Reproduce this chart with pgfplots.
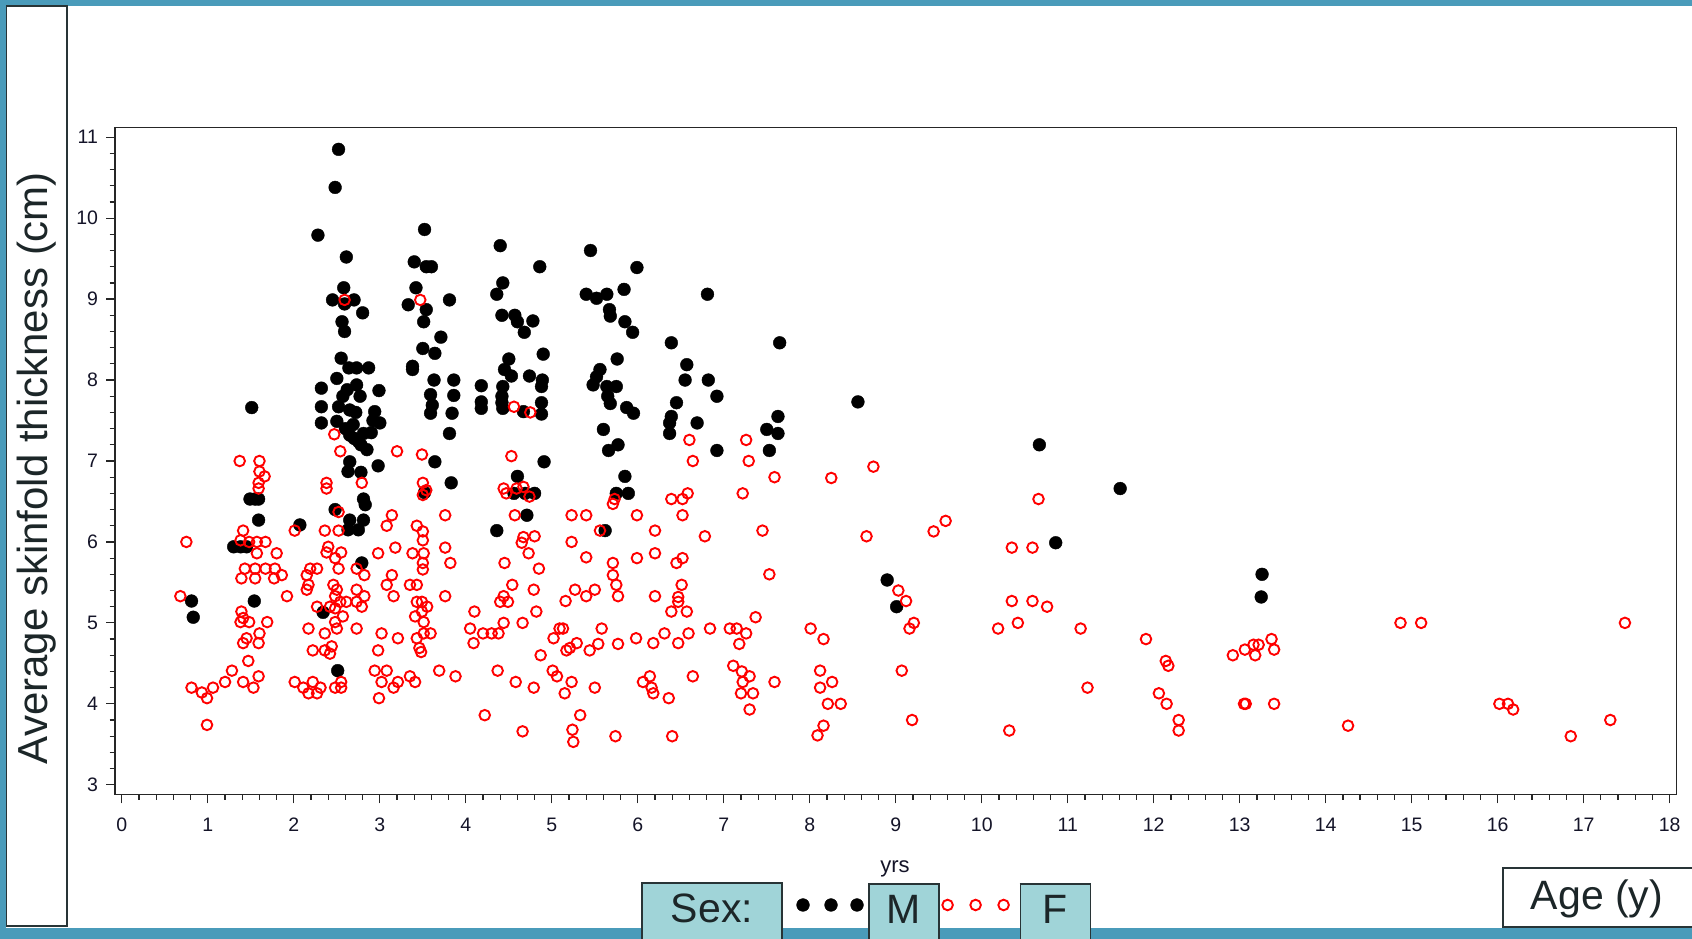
\documentclass[border=0pt]{standalone}
\usepackage{fontspec}
\setmainfont{Liberation Sans}
\usepackage{pgfplots}
\pgfplotsset{compat=1.18}

\definecolor{frameblue}{RGB}{74,155,186}
\definecolor{boxfill}{RGB}{160,212,216}
\definecolor{boxline}{RGB}{40,52,54}
\definecolor{boxtext}{RGB}{28,38,40}
\definecolor{ticktext}{RGB}{20,20,40}

% framed label box used for the legend captions
\newcommand\lbox[2]{{\setlength\fboxsep{0pt}\setlength\fboxrule{1.6pt}%
  \fcolorbox{boxline}{boxfill}{\makebox[#1]{\rule[-40pt]{0pt}{79.4pt}%
  \fontsize{41}{41}\selectfont\color{boxtext}#2}}}}

\begin{document}
\begin{tikzpicture}
% slide frame
\fill[white] (0,0) rectangle (1692pt,939pt);
\fill[frameblue] (0pt,933pt) rectangle (1692pt,939pt);
\fill[frameblue] (0pt,0pt) rectangle (5.5pt,939pt);
\fill[frameblue] (0pt,0pt) rectangle (1692pt,11pt);
\draw[boxline, line width=1.8pt, fill=white] (6.5pt,13pt) rectangle (67pt,933pt);
\draw[boxline, line width=1.8pt, fill=white] (1503pt,12pt) rectangle (1700pt,71pt);
\node[anchor=base, inner sep=0pt, text=boxtext, font=\fontsize{41}{41}\selectfont] at (1597pt,29pt) {Age (y)};
\node[anchor=base west, inner sep=0pt] at (641pt,16pt) {\lbox{138.4pt}{Sex:}};

\begin{axis}[
  at={(115pt,144.5pt)}, anchor=south west,
  scale only axis, width=1561.5pt, height=667pt,
  xmin=-0.08, xmax=18.08, ymin=2.88, ymax=11.12,
  xtick={0,1,...,18}, ytick={3,4,...,11},
  minor x tick num=4, minor y tick num=4,
  tick pos=left, tick align=outside,
  major tick length=9pt, minor tick length=5.5pt,
  tick style={line width=1.2pt, color=black!85},
  axis line style={line width=1.5pt, color=black!85},
  /pgf/number format/assume math mode=true,
  tick label style={font=\fontsize{19.5}{19.5}\selectfont, text=ticktext},
  xticklabel style={yshift=-11pt},
  yticklabel style={xshift=-4.5pt},
  ylabel={Average skinfold thickness (cm)},
  ylabel style={at={(axis description cs:-0.0503,0.4895)}, anchor=center,
    font=\fontsize{42}{42}\selectfont, text=boxtext},
  xlabel={yrs},
  xlabel style={at={(axis description cs:0.4995,-0.1162)}, anchor=base,
    font=\fontsize{22}{22}\selectfont, text=ticktext},
  legend columns=-1,
  legend style={draw=none, fill=none, inner sep=0pt, outer sep=0pt,
    column sep=0pt, row sep=0pt, nodes={inner sep=0pt, anchor=base west},
    cells={anchor=base west},
    at={(axis description cs:0.42715,-0.13268)}, anchor=north west},
]

% boys
\addplot[only marks, mark=*, mark size=6.4pt, black,
  legend image code/.code={
    \path[draw=none, fill=none] (0pt,0pt) (86pt,0pt);
    \draw[only marks] plot coordinates {(21pt,19pt) (49pt,19pt) (75pt,19pt)};}]
table {
x y
2.52 10.85
2.48 10.38
2.28 9.79
2.61 9.52
2.58 9.14
2.45 8.99
2.70 8.99
2.59 8.94
2.80 8.83
2.56 8.72
2.59 8.60
2.55 8.27
2.73 8.15
2.87 8.15
2.64 8.15
2.50 8.02
2.32 7.90
2.73 7.94
2.99 7.87
2.57 7.80
2.77 7.80
2.32 7.67
2.52 7.67
2.65 7.63
2.94 7.61
2.32 7.47
2.50 7.49
2.69 7.45
3.00 7.47
2.65 7.32
2.81 7.34
2.75 7.24
2.85 7.14
2.60 7.40
2.72 7.60
2.62 7.88
2.70 7.28
2.78 7.20
2.90 7.35
2.92 7.50
1.51 7.66
3.52 9.86
3.40 9.46
3.54 9.40
3.60 9.40
3.42 9.14
3.33 8.93
3.54 8.87
3.51 8.72
3.81 8.99
3.71 8.53
3.50 8.39
3.64 8.33
3.38 8.17
3.38 8.13
3.63 8.00
3.86 8.00
3.59 7.82
3.86 7.81
3.61 7.69
3.59 7.59
3.84 7.59
3.81 7.34
4.40 9.66
4.86 9.40
4.43 9.20
4.36 9.06
4.42 8.80
4.57 8.80
4.60 8.72
4.78 8.73
4.68 8.59
4.90 8.32
4.50 8.26
4.45 8.13
4.53 8.05
4.74 8.05
4.89 8.00
4.88 7.92
4.18 7.93
4.43 7.92
4.42 7.80
4.18 7.73
4.18 7.65
4.42 7.72
4.43 7.65
4.67 7.61
4.88 7.72
4.88 7.58
5.45 9.60
5.99 9.39
5.40 9.06
5.52 9.01
5.64 9.06
5.84 9.12
5.67 8.87
5.68 8.79
5.85 8.72
5.94 8.59
6.81 9.06
6.39 8.46
7.65 8.46
5.76 8.26
5.56 8.13
5.52 8.04
5.48 7.94
5.64 7.92
5.75 7.92
5.65 7.80
5.68 7.71
5.87 7.66
5.95 7.59
6.57 8.19
6.55 8.00
6.82 8.00
6.92 7.80
6.45 7.72
6.39 7.55
6.37 7.47
6.37 7.34
6.69 7.47
5.60 7.39
5.77 7.20
5.66 7.13
7.63 7.55
7.50 7.39
7.63 7.34
6.92 7.13
7.53 7.13
2.65 6.99
2.98 6.94
2.63 6.87
2.78 6.86
3.64 6.99
3.83 6.73
1.49 6.53
1.59 6.53
1.55 6.53
2.81 6.53
2.83 6.46
3.52 6.61
2.48 6.40
1.59 6.27
2.65 6.27
2.81 6.27
2.63 6.15
2.75 6.15
2.07 6.21
1.30 5.94
1.38 5.94
1.45 5.94
2.79 5.74
0.81 5.27
0.83 5.07
1.54 5.27
2.34 5.13
2.51 4.41
4.91 6.99
4.60 6.81
4.56 6.60
4.69 6.60
4.80 6.60
5.85 6.81
5.75 6.60
5.89 6.60
4.71 6.33
4.36 6.14
5.62 6.14
8.56 7.73
8.90 5.53
9.01 5.20
10.67 7.20
11.61 6.66
10.86 5.99
13.26 5.60
13.25 5.32
};
\addlegendentry{\lbox{68.4pt}{M}}

% girls
\addplot[only marks, mark=o, mark size=5.3pt, red, line width=1.9pt,
  mark options={solid, line width=1.9pt},
  legend image code/.code={
    \path[draw=none, fill=none] (0pt,0pt) (80pt,0pt);
    \draw[only marks] plot coordinates {(8pt,19pt) (36pt,19pt) (64pt,19pt)};}]
table {
x y
2.59 8.99
3.47 8.99
2.47 7.33
4.56 7.67
4.75 7.60
6.60 7.26
7.26 7.26
2.54 7.12
3.20 7.12
3.49 7.08
1.37 7.00
1.60 7.00
1.60 6.87
1.66 6.81
1.59 6.73
1.59 6.66
2.38 6.73
2.38 6.66
2.79 6.73
3.50 6.73
3.54 6.64
3.50 6.58
2.52 6.37
3.14 6.33
3.76 6.33
3.08 6.20
3.43 6.20
3.50 6.13
2.01 6.14
2.36 6.14
2.52 6.14
0.75 6.00
1.41 6.14
1.38 6.02
1.48 6.00
1.57 6.00
1.67 6.00
3.50 6.02
2.40 5.94
2.55 5.87
2.38 5.87
2.48 5.80
2.98 5.86
3.18 5.93
3.38 5.86
3.51 5.86
3.76 5.93
1.80 5.86
1.57 5.86
1.43 5.67
1.55 5.67
1.67 5.67
1.78 5.67
2.19 5.67
2.27 5.67
2.52 5.67
2.73 5.67
3.50 5.74
3.50 5.66
3.82 5.74
1.39 5.55
1.55 5.55
1.77 5.55
1.86 5.59
2.15 5.59
2.17 5.47
2.15 5.41
2.46 5.47
2.50 5.41
2.73 5.41
2.82 5.59
2.82 5.33
3.08 5.47
3.14 5.59
3.16 5.33
3.35 5.47
3.43 5.47
1.92 5.33
0.68 5.33
3.76 5.33
2.48 5.33
2.54 5.26
2.61 5.26
2.42 5.20
2.48 5.18
2.73 5.26
2.79 5.20
2.27 5.20
3.43 5.26
3.49 5.26
3.55 5.20
3.49 5.14
2.57 5.08
2.48 5.01
2.50 4.93
1.39 5.14
1.41 5.06
1.38 5.01
1.48 5.01
1.69 5.01
3.41 5.08
3.51 5.01
4.10 5.14
2.17 4.93
2.36 4.87
2.73 4.93
3.02 4.87
3.21 4.81
3.43 4.81
3.51 4.87
3.59 4.87
4.05 4.93
4.09 4.75
1.60 4.87
1.45 4.81
1.41 4.75
1.59 4.75
2.22 4.66
2.36 4.66
2.42 4.62
2.44 4.71
2.98 4.66
3.46 4.69
3.48 4.64
1.47 4.53
1.28 4.41
1.20 4.27
1.41 4.27
1.59 4.34
1.53 4.20
0.81 4.20
0.93 4.14
1.06 4.20
0.99 4.07
2.01 4.27
2.11 4.20
2.22 4.27
2.17 4.13
2.27 4.13
2.31 4.20
2.48 4.20
2.55 4.27
2.55 4.20
2.94 4.41
3.08 4.41
3.02 4.27
3.16 4.20
3.21 4.27
3.35 4.34
3.41 4.27
2.99 4.07
3.69 4.41
3.88 4.34
0.99 3.74
4.53 7.06
6.64 7.00
7.29 7.00
7.59 6.80
7.22 6.60
6.58 6.60
6.52 6.53
6.39 6.53
5.73 6.53
5.71 6.47
4.44 6.66
4.47 6.60
4.59 6.66
4.67 6.68
4.74 6.56
4.57 6.33
5.23 6.33
5.40 6.33
5.99 6.33
6.52 6.33
5.56 6.14
6.20 6.14
6.78 6.07
7.45 6.14
4.67 6.06
4.80 6.07
4.65 5.99
5.23 6.00
4.73 5.86
5.40 5.81
5.99 5.80
6.20 5.86
6.45 5.74
6.52 5.80
4.45 5.74
4.85 5.67
5.71 5.74
5.71 5.59
5.75 5.47
5.77 5.33
7.53 5.60
4.54 5.47
4.79 5.41
4.44 5.33
4.40 5.26
4.49 5.26
5.27 5.41
5.50 5.41
5.40 5.33
5.16 5.27
6.20 5.33
6.51 5.47
6.47 5.32
6.47 5.26
6.39 5.14
6.57 5.14
4.44 5.00
4.66 5.00
4.82 5.14
4.20 4.87
4.30 4.87
4.38 4.87
5.09 4.93
5.13 4.93
5.02 4.81
5.17 4.66
5.21 4.69
5.29 4.75
5.44 4.66
5.54 4.74
5.58 4.93
5.77 4.74
5.98 4.81
6.18 4.75
6.31 4.87
6.47 4.75
6.59 4.87
6.84 4.93
7.07 4.93
7.15 4.93
7.26 4.87
7.18 4.74
7.37 5.07
4.87 4.60
4.37 4.41
5.01 4.41
5.06 4.34
4.58 4.27
4.79 4.20
5.23 4.27
5.15 4.13
5.50 4.20
6.06 4.27
6.14 4.34
6.16 4.20
6.18 4.13
6.36 4.07
6.64 4.34
7.11 4.47
7.21 4.40
7.30 4.34
7.22 4.27
7.20 4.13
7.34 4.13
7.30 3.93
7.59 4.27
4.22 3.86
4.66 3.66
5.33 3.86
5.24 3.68
5.25 3.53
5.74 3.60
6.40 3.60
8.25 6.79
8.74 6.93
8.66 6.07
9.44 6.13
9.58 6.26
9.03 5.40
9.12 5.27
9.21 5.00
9.16 4.93
9.07 4.41
9.19 3.80
8.01 4.93
8.16 4.80
8.12 4.41
8.26 4.27
8.12 4.20
8.21 4.00
8.36 4.00
8.16 3.73
8.09 3.61
10.66 6.53
10.35 5.93
10.59 5.93
10.35 5.27
10.59 5.27
10.76 5.20
10.19 4.93
10.42 5.00
10.32 3.67
11.15 4.93
11.23 4.20
11.91 4.80
12.14 4.53
12.17 4.47
12.06 4.13
12.15 4.00
12.29 3.80
12.29 3.67
12.92 4.60
13.06 4.67
13.16 4.73
13.22 4.73
13.18 4.60
13.37 4.80
13.40 4.67
13.05 4.00
13.07 4.00
13.40 4.00
14.26 3.73
14.87 5.00
15.11 5.00
16.02 4.00
16.12 4.00
16.18 3.93
16.85 3.60
17.31 3.80
17.48 5.00
};
\addlegendentry{\lbox{68.4pt}{F}}
\end{axis}

\pgfresetboundingbox
\path[use as bounding box] (0pt,0pt) rectangle (1692pt,939pt);
\end{tikzpicture}
\end{document}
